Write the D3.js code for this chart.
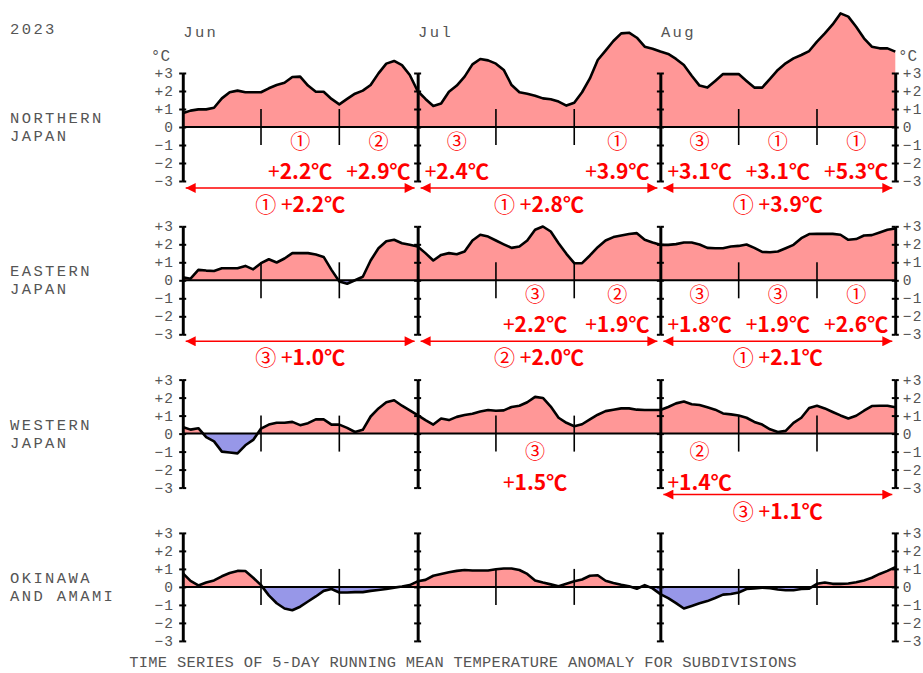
<!DOCTYPE html>
<html>
<head>
<meta charset="utf-8">
<script src="https://cdn.jsdelivr.net/npm/d3@7"></script>
<style>
body{margin:0;background:#fff}
svg{display:block;background:#fff}
.lbl{font-family:"Liberation Mono","Courier New",monospace;fill:#555}
.big{font-size:15.5px;letter-spacing:2.4px}
.red{font-family:"Noto Sans CJK JP",sans-serif;fill:#f00}
</style>
</head>
<body>
<svg id="chart" width="923" height="673"></svg>
<script>
var year = 2023;
var regions = [["NORTHERN","JAPAN"],["EASTERN","JAPAN"],["WESTERN","JAPAN"],["OKINAWA","AND AMAMI"]];
var monthNames = ["Jun","Jul","Aug"];
var yTicks = [-3,-2,-1,0,1,2,3];
var caption = "TIME SERIES OF 5-DAY RUNNING MEAN TEMPERATURE ANOMALY FOR SUBDIVISIONS";

// 5-day running mean anomaly (degC), Jun 1 .. Aug 31
var northern = [0.76,0.91,0.98,0.98,1.07,1.59,1.93,2.02,1.93,1.93,
  1.93,2.15,2.33,2.46,2.78,2.80,2.30,1.96,1.96,1.56,
  1.26,1.56,1.85,2.02,2.33,2.98,3.52,3.67,3.44,2.89,
  2.00,1.56,1.17,1.31,1.96,2.30,2.80,3.48,3.78,3.70,
  3.52,3.17,2.33,1.93,1.85,1.74,1.59,1.54,1.41,1.19,
  1.35,1.93,2.70,3.72,4.24,4.78,5.20,5.24,4.96,4.46,
  4.35,4.19,4.06,3.78,3.44,2.85,2.30,2.19,2.56,2.94,
  2.94,2.94,2.56,2.19,2.19,2.67,3.17,3.54,3.81,4.00,
  4.22,4.74,5.20,5.70,6.31,6.13,5.57,4.93,4.46,4.37,
  4.37,4.19];
var eastern = [0.17,0.09,0.58,0.54,0.52,0.67,0.67,0.67,0.80,0.61,
  0.95,1.17,0.99,1.21,1.51,1.51,1.51,1.43,1.30,0.58,
  -0.07,-0.19,0.00,0.20,1.10,1.78,2.17,2.25,2.06,1.97,
  1.88,1.51,1.10,1.41,1.51,1.45,1.60,2.21,2.53,2.43,
  2.21,2.00,1.80,1.88,2.21,2.81,2.99,2.71,2.06,1.47,
  0.95,0.95,1.38,1.84,2.21,2.40,2.49,2.57,2.62,2.25,
  2.10,1.97,1.97,2.01,2.10,2.10,1.99,1.80,1.78,1.78,
  1.88,1.91,1.99,1.80,1.58,1.56,1.60,1.78,1.97,2.34,
  2.57,2.58,2.58,2.58,2.53,2.25,2.29,2.49,2.51,2.66,
  2.81,2.88];
var western = [0.37,0.22,0.30,-0.20,-0.43,-1.00,-1.05,-1.10,-0.65,-0.35,
  0.28,0.50,0.60,0.60,0.65,0.47,0.58,0.79,0.79,0.50,
  0.50,0.32,0.09,0.21,0.95,1.40,1.74,1.85,1.55,1.29,
  1.03,0.75,0.50,0.84,0.75,0.93,1.03,1.10,1.23,1.31,
  1.27,1.29,1.48,1.55,1.74,2.04,1.98,1.50,0.88,0.60,
  0.41,0.52,0.79,1.05,1.25,1.33,1.40,1.40,1.33,1.31,
  1.31,1.31,1.48,1.68,1.78,1.63,1.59,1.46,1.33,1.12,
  1.07,1.01,0.88,0.65,0.50,0.24,0.09,0.15,0.60,0.88,
  1.42,1.55,1.40,1.20,1.01,0.84,0.99,1.27,1.53,1.55,
  1.55,1.46];
var okinawa = [0.77,0.33,0.08,0.24,0.36,0.59,0.77,0.89,0.88,0.51,
  0.10,-0.47,-0.91,-1.20,-1.30,-1.10,-0.81,-0.53,-0.22,-0.12,
  -0.31,-0.31,-0.29,-0.29,-0.22,-0.17,-0.12,-0.04,0.02,0.10,
  0.31,0.39,0.62,0.72,0.81,0.89,0.94,0.91,0.91,0.91,
  0.98,1.02,1.02,0.94,0.72,0.36,0.24,0.14,0.04,0.17,
  0.31,0.41,0.62,0.65,0.34,0.22,0.12,0.04,-0.10,0.10,
  -0.08,-0.40,-0.62,-0.90,-1.20,-1.06,-0.91,-0.79,-0.62,-0.43,
  -0.39,-0.31,-0.12,-0.08,-0.04,-0.07,-0.14,-0.19,-0.19,-0.12,
  -0.10,0.17,0.24,0.17,0.17,0.19,0.26,0.36,0.51,0.72,
  0.89,1.10];
var series = [northern, eastern, western, okinawa];

// 10-day notes: [region, month, decade, rank, anomaly]
var decadeNotes = [
  [0,0,1,1,2.2],[0,0,2,2,2.9],[0,1,0,3,2.4],[0,1,2,1,3.9],[0,2,0,3,3.1],[0,2,1,1,3.1],[0,2,2,1,5.3],
  [1,1,1,3,2.2],[1,1,2,2,1.9],[1,2,0,3,1.8],[1,2,1,3,1.9],[1,2,2,1,2.6],
  [2,1,1,3,1.5],[2,2,0,2,1.4]
];
// monthly notes: [region, month, rank, anomaly]
var monthNotes = [
  [0,0,1,2.2],[0,1,1,2.8],[0,2,1,3.9],
  [1,0,3,1.0],[1,1,2,2.0],[1,2,1,2.1],
  [2,2,3,1.1]
];
var rankMark = ["","\u2460","\u2461","\u2462"];

var svg = d3.select("#chart");
var start = new Date(year,5,1), end = new Date(year,7,31);
var days = d3.timeDay.range(start, d3.timeDay.offset(end,1));
var monthStarts = [0,1,2].map(m=>new Date(year,5+m,1));
var monthEnds = [new Date(year,6,1), new Date(year,7,1), end];
var axisDates = monthStarts.concat([end]);

var x = d3.scaleTime().domain([start,end]).range([182.7,895.3]);
var fmt = d3.format(".1f");
var tickFmt = d=> d>0 ? "+"+d : (d<0 ? "\u2212"+(-d) : "0");
var noteShift = [0,0,4,0];

function decadeBounds(m){
  return [new Date(year,5+m,1), new Date(year,5+m,11), new Date(year,5+m,21), monthEnds[m]];
}

var defs = svg.append("defs");
defs.append("marker").attr("id","arr")
  .attr("viewBox","0 0 10 10").attr("refX",10).attr("refY",5)
  .attr("markerUnits","userSpaceOnUse").attr("markerWidth",13).attr("markerHeight",10)
  .attr("orient","auto-start-reverse")
  .append("path").attr("d","M0,0L10,5L0,10z").attr("fill","#f00");

svg.append("text").attr("class","lbl big").attr("x",10).attr("y",30)
  .attr("dominant-baseline","central").text(year);

monthStarts.forEach(function(d,m){
  svg.append("text").attr("class","lbl big").attr("x",x(d)+0.5).attr("y",33)
    .attr("dominant-baseline","central").text(monthNames[m]);
});

svg.append("text").attr("class","lbl").attr("x",170).attr("y",57).attr("text-anchor","end")
  .attr("dominant-baseline","central").style("font-size","16px").text("\u00b0C");
svg.append("text").attr("class","lbl").attr("x",898).attr("y",57)
  .attr("dominant-baseline","central").style("font-size","16px").text("\u00b0C");

series.forEach(function(vals,i){
  var zero = 127 + i*153.3;
  var y = d3.scaleLinear().domain([-3,3]).range([zero+54, zero-54]);
  var g = svg.append("g");

  defs.append("clipPath").attr("id","up"+i).append("rect")
    .attr("x",0).attr("y",0).attr("width",923).attr("height",y(0));
  defs.append("clipPath").attr("id","dn"+i).append("rect")
    .attr("x",0).attr("y",y(0)).attr("width",923).attr("height",673-y(0));

  var area = d3.area().x((d,j)=>x(days[j])).y0(y(0)).y1(d=>y(d));
  g.append("path").attr("d",area(vals)).attr("fill","#ff9797").attr("clip-path","url(#up"+i+")");
  g.append("path").attr("d",area(vals)).attr("fill","#9797e8").attr("clip-path","url(#dn"+i+")");

  g.append("line").attr("x1",x(start)).attr("x2",x(end)).attr("y1",y(0)).attr("y2",y(0))
    .attr("stroke","#000").attr("stroke-width",2);

  // decade ticks
  [0,1,2].forEach(function(m){
    decadeBounds(m).slice(1,3).forEach(function(d){
      g.append("line").attr("x1",x(d)).attr("x2",x(d)).attr("y1",y(1)).attr("y2",y(-1))
        .attr("stroke","#000").attr("stroke-width",1.6);
    });
  });

  axisDates.forEach(function(d,k){
    var aL = g.append("g").attr("transform","translate("+x(d)+",0)")
      .call(d3.axisLeft(y).tickValues(yTicks).tickSize(3.5).tickSizeOuter(0).tickPadding(5)
        .tickFormat(k==0 ? tickFmt : ""));
    var aR = g.append("g").attr("transform","translate("+x(d)+",0)")
      .call(d3.axisRight(y).tickValues(yTicks).tickSize(3.5).tickSizeOuter(0).tickPadding(4)
        .tickFormat(k==3 ? tickFmt : ""));
    [aL,aR].forEach(function(a){
      a.select(".domain").attr("stroke-width",2.6);
      a.selectAll(".tick line").attr("stroke-width",2);
      a.selectAll("text").attr("class","lbl").attr("fill","#555")
        .style("font-family",'"Liberation Mono","Courier New",monospace')
        .style("font-size","14.5px").style("letter-spacing","1.2px");
    });
  });

  g.append("path").attr("d",d3.line().x((d,j)=>x(days[j])).y(d=>y(d))(vals))
    .attr("fill","none").attr("stroke","#000").attr("stroke-width",2.6)
    .attr("stroke-linejoin","round");

  regions[i].forEach(function(t,l){
    svg.append("text").attr("class","lbl big").attr("x",10).attr("y",zero-8+l*18)
      .attr("dominant-baseline","central").text(t);
  });

  decadeNotes.filter(n=>n[0]==i).forEach(function(n){
    var b = decadeBounds(n[1]);
    var cx = (x(b[n[2]]) + x(b[n[2]+1]))/2;
    svg.append("text").attr("class","red").attr("x",cx).attr("y",zero+13+noteShift[i])
      .attr("text-anchor","middle").attr("dominant-baseline","central")
      .style("font-size","20px").text(rankMark[n[3]]);
    var t = svg.append("text").attr("class","red").attr("x",cx).attr("y",zero+43+noteShift[i])
      .attr("text-anchor","middle").attr("dominant-baseline","central").style("font-size","21px");
    t.append("tspan").style("font-weight",400).text("+");
    t.append("tspan").style("font-weight",700).text(fmt(n[4])+"\u2103");
  });

  monthNotes.filter(n=>n[0]==i).forEach(function(n){
    var x0 = x(monthStarts[n[1]]), x1 = x(monthEnds[n[1]]);
    svg.append("line").attr("x1",x0+3).attr("x2",x1-3).attr("y1",zero+61).attr("y2",zero+61)
      .attr("stroke","#f00").attr("stroke-width",1.5)
      .attr("marker-start","url(#arr)").attr("marker-end","url(#arr)");
    var t = svg.append("text").attr("class","red").attr("x",(x0+x1)/2).attr("y",zero+76)
      .attr("text-anchor","middle").attr("dominant-baseline","central").style("font-size","21px");
    t.append("tspan").style("font-weight",400).text(rankMark[n[2]]+" +");
    t.append("tspan").style("font-weight",700).text(fmt(n[3])+"\u2103");
  });
});

svg.append("text").attr("class","lbl").attr("x",463).attr("y",663).attr("text-anchor","middle")
  .attr("dominant-baseline","central").style("font-size","15.4px").style("letter-spacing","0.3px")
  .text(caption);
</script>
</body>
</html>
